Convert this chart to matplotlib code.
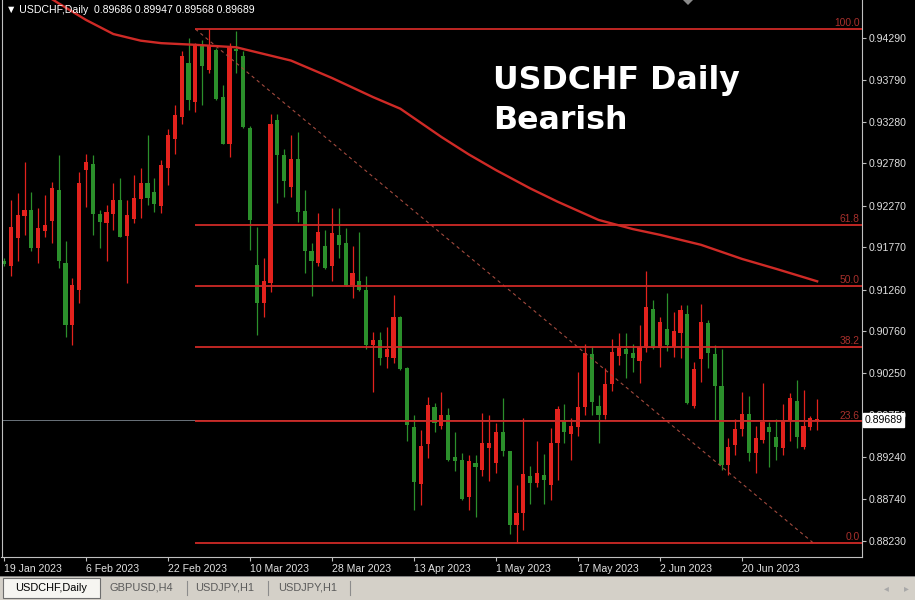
import matplotlib
matplotlib.use('Agg')
import matplotlib.pyplot as plt
import matplotlib.transforms as mtransforms
import numpy as np
import pandas as pd
from matplotlib.patches import Rectangle, Polygon

plt.rcParams['font.family'] = ['Liberation Sans', 'DejaVu Sans']

# --- data (daily bars from 19 Jan 2023) ---
first_day = '2023-01-19'
opens = [0.9161, 0.9154, 0.9188, 0.9215, 0.9222, 0.9176, 0.9197, 0.9209, 0.9246, 0.9158,
         0.9083, 0.9125, 0.9270, 0.9277, 0.9217, 0.9206, 0.9217, 0.9234, 0.9191, 0.9211,
         0.9235, 0.9254, 0.9244, 0.9227, 0.9272, 0.9307, 0.9334, 0.9399, 0.9352, 0.9419,
         0.9391, 0.9415, 0.9358, 0.9301, 0.9416, 0.9407, 0.9321, 0.9156, 0.9110, 0.9134,
         0.9330, 0.9288, 0.9250, 0.9283, 0.9221, 0.9172, 0.9158, 0.9178, 0.9154, 0.9192,
         0.9182, 0.9132, 0.9136, 0.9125, 0.9059, 0.9065, 0.9045, 0.9044, 0.9093, 0.9031,
         0.8960, 0.8892, 0.8940, 0.8985, 0.8962, 0.8975, 0.8924, 0.8921, 0.8876, 0.8917,
         0.8909, 0.8935, 0.8917, 0.8955, 0.8931, 0.8842, 0.8857, 0.8902, 0.8893, 0.8903,
         0.8891, 0.8941, 0.8969, 0.8952, 0.8961, 0.8984, 0.9049, 0.8986, 0.8975, 0.9012,
         0.9046, 0.9054, 0.9050, 0.9040, 0.9056, 0.9103, 0.9056, 0.9079, 0.9057, 0.9074,
         0.9097, 0.8986, 0.9042, 0.9086, 0.9048, 0.9010, 0.8915, 0.8939, 0.8958, 0.8976,
         0.8929, 0.8945, 0.8961, 0.8948, 0.8935, 0.8968, 0.8992, 0.8936, 0.8960, 0.89686]
highs = [0.9164, 0.9234, 0.9242, 0.9280, 0.9244, 0.9224, 0.9240, 0.9256, 0.9288, 0.9184,
         0.9140, 0.9268, 0.9290, 0.9288, 0.9222, 0.9228, 0.9254, 0.9260, 0.9234, 0.9264,
         0.9272, 0.9312, 0.9260, 0.9282, 0.9320, 0.9348, 0.9413, 0.9429, 0.9423, 0.9427,
         0.9440, 0.9417, 0.9373, 0.9423, 0.9438, 0.9413, 0.9323, 0.9202, 0.9164, 0.9338,
         0.9338, 0.9296, 0.9312, 0.9316, 0.9246, 0.9182, 0.9218, 0.9198, 0.9224, 0.9224,
         0.9200, 0.9178, 0.9196, 0.9142, 0.9075, 0.9075, 0.9081, 0.9120, 0.9094, 0.9033,
         0.8975, 0.8957, 0.8997, 0.8989, 0.9003, 0.8983, 0.8955, 0.8929, 0.8927, 0.8927,
         0.8977, 0.8975, 0.8965, 0.8995, 0.8932, 0.8891, 0.8971, 0.8913, 0.8943, 0.8928,
         0.8959, 0.8986, 0.8988, 0.8971, 0.9027, 0.9061, 0.9058, 0.8999, 0.9031, 0.9067,
         0.9074, 0.9074, 0.9061, 0.9083, 0.9148, 0.9113, 0.9093, 0.9122, 0.9099, 0.9107,
         0.9107, 0.9039, 0.9109, 0.9089, 0.9059, 0.9055, 0.8947, 0.8970, 0.9003, 0.8998,
         0.8962, 0.9013, 0.8967, 0.8970, 0.8988, 0.9002, 0.9017, 0.9005, 0.8974, 0.89947]
lows = [0.9154, 0.9142, 0.9160, 0.9192, 0.9172, 0.9158, 0.9190, 0.9182, 0.9152, 0.9069,
        0.9059, 0.9110, 0.9226, 0.9192, 0.9176, 0.9160, 0.9198, 0.9189, 0.9134, 0.9206,
        0.9212, 0.9228, 0.9220, 0.9218, 0.9252, 0.9290, 0.9326, 0.9342, 0.9340, 0.9348,
        0.9387, 0.9354, 0.9301, 0.9286, 0.9387, 0.9321, 0.9174, 0.9071, 0.9093, 0.9123,
        0.9230, 0.9238, 0.9238, 0.9208, 0.9146, 0.9118, 0.9154, 0.9151, 0.9136, 0.9164,
        0.9130, 0.9116, 0.9124, 0.9055, 0.9003, 0.9035, 0.9032, 0.9037, 0.9029, 0.8943,
        0.8860, 0.8866, 0.8923, 0.8955, 0.8958, 0.8920, 0.8907, 0.8873, 0.8860, 0.8852,
        0.8901, 0.8895, 0.8905, 0.8925, 0.8832, 0.8821, 0.8836, 0.8868, 0.8888, 0.8868,
        0.8872, 0.8897, 0.8941, 0.8921, 0.8950, 0.8975, 0.8975, 0.8941, 0.8970, 0.9004,
        0.9035, 0.9019, 0.9027, 0.9013, 0.9051, 0.9055, 0.9033, 0.9052, 0.9045, 0.9043,
        0.8988, 0.8983, 0.9015, 0.9031, 0.8969, 0.8909, 0.8903, 0.8927, 0.8950, 0.8920,
        0.8905, 0.8941, 0.8912, 0.8921, 0.8927, 0.8943, 0.8935, 0.8934, 0.8957, 0.89568]
closes = [0.9157, 0.9201, 0.9216, 0.9222, 0.9176, 0.9200, 0.9204, 0.9248, 0.9160, 0.9083,
          0.9131, 0.9255, 0.9280, 0.9217, 0.9207, 0.9220, 0.9234, 0.9190, 0.9216, 0.9237,
          0.9255, 0.9237, 0.9229, 0.9276, 0.9312, 0.9336, 0.9407, 0.9354, 0.9421, 0.9395,
          0.9421, 0.9356, 0.9302, 0.9420, 0.9413, 0.9322, 0.9210, 0.9110, 0.9136, 0.9326,
          0.9288, 0.9257, 0.9283, 0.9220, 0.9172, 0.9161, 0.9196, 0.9152, 0.9194, 0.9180,
          0.9132, 0.9146, 0.9125, 0.9059, 0.9065, 0.9044, 0.9054, 0.9093, 0.9030, 0.8963,
          0.8894, 0.8938, 0.8987, 0.8965, 0.8975, 0.8921, 0.8920, 0.8874, 0.8920, 0.8912,
          0.8941, 0.8941, 0.8955, 0.8931, 0.8842, 0.8857, 0.8904, 0.8893, 0.8905, 0.8896,
          0.8941, 0.8982, 0.8955, 0.8962, 0.8984, 0.9050, 0.8991, 0.8975, 0.9012, 0.9051,
          0.9056, 0.9048, 0.9043, 0.9057, 0.9105, 0.9056, 0.9087, 0.9059, 0.9076, 0.9101,
          0.8989, 0.9030, 0.9087, 0.9050, 0.9010, 0.8915, 0.8936, 0.8958, 0.8976, 0.8929,
          0.8947, 0.8967, 0.8955, 0.8936, 0.8968, 0.8996, 0.8948, 0.8962, 0.8971, 0.89689]

# moving average, sampled along the red curve
ma_bars = [0, 8, 12, 16, 20, 23, 28, 34, 36, 42, 48, 54, 58, 64, 68, 72, 77, 81,
           87, 92, 96, 102, 108, 113, 119]
ma_vals = [0.9512, 0.9471, 0.9451, 0.9434, 0.9426, 0.9423, 0.9421, 0.9418, 0.9414,
           0.9402, 0.9381, 0.9358, 0.9344, 0.9310, 0.9289, 0.9270, 0.9248, 0.9232,
           0.9210, 0.9199, 0.9192, 0.9180, 0.9163, 0.9151, 0.9136]

# fibonacci retracement
fib_levels = [0.0, 23.6, 38.2, 50.0, 61.8, 100.0]
fib_high = 0.9440
fib_low = 0.8821
fib_start_bar = 28
fib_end_bar = 118.4

price_ticks = [0.94290, 0.93790, 0.93280, 0.92780, 0.92270, 0.91770, 0.91260,
               0.90760, 0.90250, 0.89750, 0.89240, 0.88740, 0.88230]
tabs = ['USDCHF,Daily', 'GBPUSD,H4', 'USDJPY,H1', 'USDJPY,H1']

RED = '#e3221d'
GREEN = '#2b8f2b'
LINE_RED = '#cf2a26'
FRAME = '#bfbfbf'
W, H = 915, 600

fig = plt.figure(figsize=(W / 100, H / 100), dpi=100, facecolor='black')
ax = fig.add_axes([1.5 / W, 43 / H, 860.5 / W, 557 / H])
ax.set_facecolor('black')

o, h, l, c = (np.array(v) for v in (opens, highs, lows, closes))
x = np.arange(len(o))
col = np.where(c >= o, RED, GREEN)

# bid line
ax.axhline(c[-1], color='#6b737b', lw=0.7, zorder=0.5)

# candles
ax.vlines(x, l, h, colors=col, lw=0.9, zorder=2)
ax.bar(x, np.maximum(np.abs(c - o), 0.0001), bottom=np.minimum(o, c),
       width=0.62, color=col, lw=0, zorder=2)

# moving average
ax.plot(ma_bars, ma_vals, color=LINE_RED, lw=1.7, zorder=3)

xmax = 125.56
# fibo levels
lab_tr = mtransforms.blended_transform_factory(ax.transAxes, ax.transData)
for lvl in fib_levels:
    p = fib_low + (fib_high - fib_low) * lvl / 100
    ax.hlines(p, fib_start_bar, xmax, color=LINE_RED, lw=1.3, zorder=3)
    ax.text(0.997, p + 0.00012, f'{lvl:.1f}', transform=lab_tr, ha='right',
            va='bottom', fontsize=7.4, color='#a8302c', zorder=4)
ax.plot([fib_start_bar, fib_end_bar], [fib_high, fib_low], color='#a24a3e',
        lw=0.8, ls=(0, (3, 3)), zorder=2.5)

ax.set_xlim(-0.366, xmax)
ax.set_ylim(0.88038, 0.9475)

# axes / ticks
ax.yaxis.tick_right()
ax.set_yticks(price_ticks)
ax.set_yticklabels([f'{p:.5f}' for p in price_ticks])
ax.tick_params(axis='y', colors=FRAME, labelcolor='#e0e0e0', length=3,
               width=0.8, pad=1.5, labelsize=7.6)
dates = pd.bdate_range(first_day, periods=len(o))
xt = x[::12]
ax.set_xticks(xt)
ax.set_xticklabels([f'{d.day} {d:%b %Y}' for d in dates[xt]], ha='left')
ax.tick_params(axis='x', colors=FRAME, labelcolor='#e0e0e0', length=3,
               width=0.8, pad=2, labelsize=7.6)
for s in ('left', 'right', 'bottom'):
    ax.spines[s].set_color(FRAME)
    ax.spines[s].set_linewidth(0.8)
ax.spines['top'].set_visible(False)

# current price tag (covers the 0.89750 label, as in the terminal)
ax.text(1.0 + 2.5 / 860.5, c[-1], f'{c[-1]:.5f}', transform=lab_tr, ha='left',
        va='center', fontsize=7.6, color='black', zorder=10, clip_on=False,
        bbox=dict(fc='white', ec='white', pad=1.3))

# header and big caption
fig.text(6 / W, 1 - 10 / H,
         f'\u25bc {tabs[0]}  {o[-1]:.5f} {h[-1]:.5f} {l[-1]:.5f} {c[-1]:.5f}',
         color='white', fontsize=7.6, va='center', ha='left')
fig.text(493 / W, 1 - 89 / H, 'USDCHF Daily', color='white', fontsize=22.8,
         weight='bold', family='DejaVu Sans', va='baseline')
fig.text(493 / W, 1 - 129 / H, 'Bearish', color='white', fontsize=22.8,
         weight='bold', family='DejaVu Sans', va='baseline')
fig.patches.append(Polygon([(683 / W, 1), (693 / W, 1), (688 / W, 1 - 5 / H)],
                           closed=True, fc='#8a8a8a', transform=fig.transFigure))

# tab bar
fig.patches.append(Rectangle((0, 0), 1, 24 / H, fc='#d4d0c8', ec='none',
                             transform=fig.transFigure))
fig.patches.append(Rectangle((0, 23 / H), 1, 1.2 / H, fc='#808080', ec='none',
                             transform=fig.transFigure))
fig.patches.append(Rectangle((3 / W, 2 / H), 97 / W, 20 / H, fc='#f6f5f1',
                             ec='#6e6e6e', lw=0.8, transform=fig.transFigure))
tab_x = [15, 110, 195, 278]
for tx, name in zip(tab_x, tabs):
    fig.text(tx / W, 12 / H, name, fontsize=7.9, va='center',
             color='black' if tx == tab_x[0] else '#5a5a5a')
for sx in (187, 268, 350):
    fig.add_artist(plt.Line2D([sx / W, sx / W], [5 / H, 19 / H], color='#8c8c8c',
                              lw=0.8, transform=fig.transFigure))
fig.text(886 / W, 12 / H, '\u25c2', fontsize=7, color='#a8a8a8', va='center',
         ha='center')
fig.text(906 / W, 12 / H, '\u25b8', fontsize=7, color='#a8a8a8', va='center',
         ha='center')

fig.savefig('out.png', dpi=100, facecolor='black')
